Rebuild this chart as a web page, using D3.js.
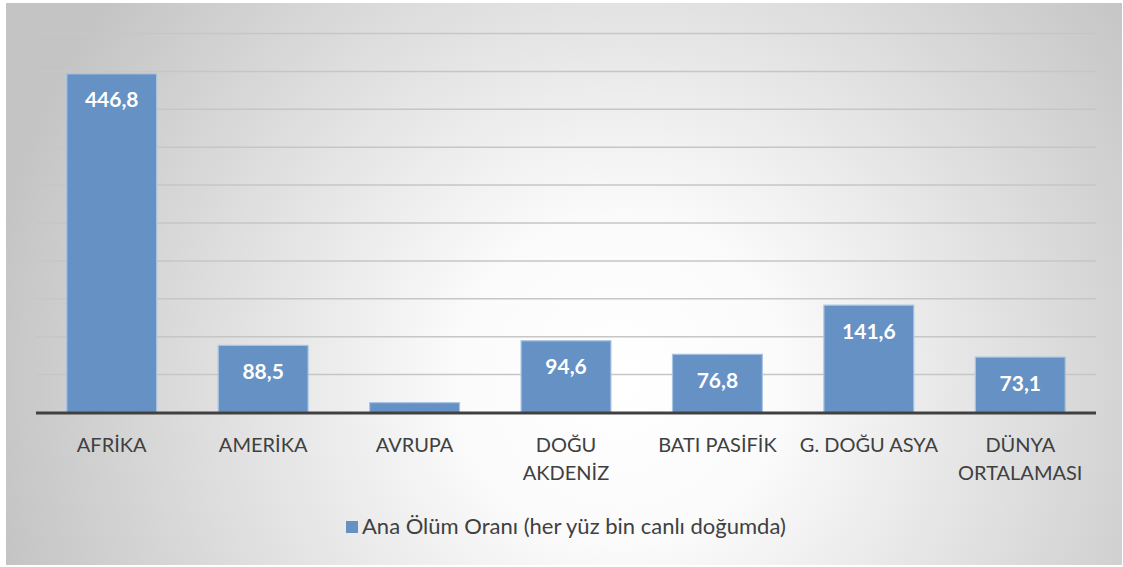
<!DOCTYPE html>
<html><head><meta charset="utf-8">
<script src="https://cdn.jsdelivr.net/npm/d3@7"></script>
<style>html,body{margin:0;padding:0;background:#fff;}svg{display:block;}</style>
</head><body>
<script>
const categories = [["AFRİKA"],["AMERİKA"],["AVRUPA"],["DOĞU","AKDENİZ"],["BATI PASİFİK"],["G. DOĞU ASYA"],["DÜNYA","ORTALAMASI"]];
const values = [446.8, 88.5, 13, 94.6, 76.8, 141.6, 73.1];
const showLabel = [true, true, false, true, true, true, true];
const seriesName = "Ana Ölüm Oranı (her yüz bin canlı doğumda)";
const yTicks = [0,50,100,150,200,250,300,350,400,450,500];

const W = 1123, H = 567;
const svg = d3.select("body").append("svg").attr("width", W).attr("height", H);
const defs = svg.append("defs");
const rg = defs.append("radialGradient").attr("id","bg").attr("gradientUnits","userSpaceOnUse")
  .attr("cx",620).attr("cy",380).attr("r",640);
rg.append("stop").attr("offset","0%").attr("stop-color","#ffffff");
rg.append("stop").attr("offset","25%").attr("stop-color","#fbfbfb");
rg.append("stop").attr("offset","100%").attr("stop-color","#c4c4c4");
svg.append("rect").attr("x",6).attr("y",3).attr("width",1116).attr("height",562).attr("fill","url(#bg)");

const x = d3.scaleBand().domain(d3.range(categories.length)).range([36,1096]).paddingInner(0.4).paddingOuter(0.2);
const y = d3.scaleLinear().domain([0,500]).range([412,33]);

const font = "Lato, 'Open Sans', sans-serif";
svg.append("g").selectAll("line").data(yTicks.slice(1)).join("line")
  .attr("x1",36).attr("x2",1096).attr("y1",d=>y(d)+0.5).attr("y2",d=>y(d)+0.5)
  .attr("stroke","#c6c6c6").attr("stroke-width",1.5);

const rows = values.map((v,i)=>({v,i,show:showLabel[i]}));

svg.append("g").selectAll("rect").data(rows).join("rect")
  .attr("x",d=>x(d.i)+0.5).attr("y",d=>y(d.v)+0.5)
  .attr("width",x.bandwidth()-1).attr("height",d=>y(0)-y(d.v))
  .attr("fill","#6591c5").attr("stroke","#a9c3e3").attr("stroke-width",1.2);

svg.append("g").selectAll("text").data(rows.filter(d=>d.show)).join("text")
  .attr("x",d=>x(d.i)+x.bandwidth()/2).attr("y",d=>y(d.v)+34)
  .attr("text-anchor","middle").attr("fill","#fff").attr("font-weight","bold")
  .attr("font-family",font).attr("font-size",21)
  .text(d=>String(d.v).replace(".",","));

svg.append("line").attr("x1",36).attr("x2",1096).attr("y1",y(0)+1).attr("y2",y(0)+1)
  .attr("stroke","#404040").attr("stroke-width",3);

const xl = svg.append("g");
categories.forEach((lines,i)=>{
  const t = xl.append("text").attr("x",x(i)+x.bandwidth()/2).attr("y",452)
    .attr("text-anchor","middle").attr("fill","#404040").attr("font-family",font).attr("font-size",20);
  lines.forEach((l,j)=>t.append("tspan").attr("x",x(i)+x.bandwidth()/2).attr("dy",j?28:0).text(l));
});

svg.append("rect").attr("x",346).attr("y",521).attr("width",12).attr("height",12).attr("fill","#6591c5");
svg.append("text").attr("x",362).attr("y",534).attr("fill","#404040").attr("font-family",font).attr("font-size",22).text(seriesName);
</script>
</body></html>
